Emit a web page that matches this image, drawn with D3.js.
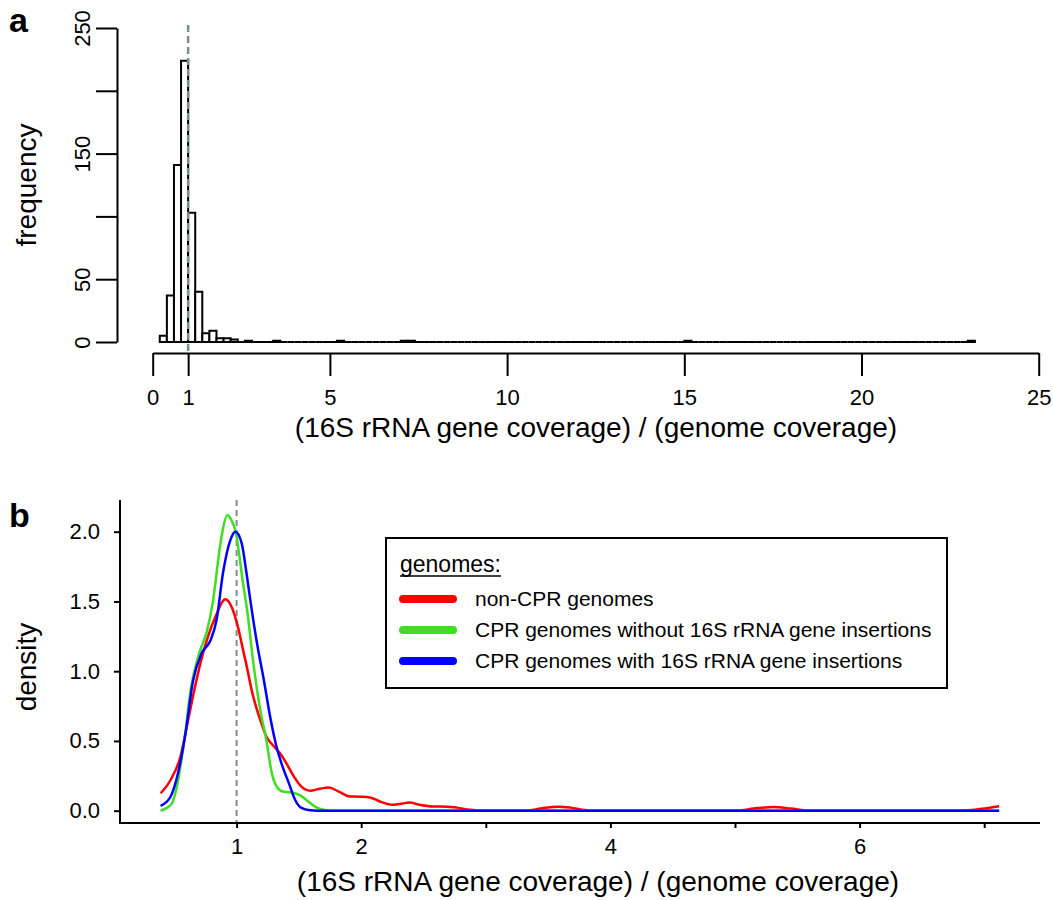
<!DOCTYPE html>
<html>
<head>
<meta charset="utf-8">
<script src="https://cdn.jsdelivr.net/npm/d3@7/dist/d3.min.js"></script>
<style>
  body { margin: 0; background: #fff; }
  svg { font-family: "Liberation Sans", Arial, Helvetica, sans-serif; }
</style>
</head>
<body>
<div id="chart"></div>
<script>
// ---- panel a: histogram of coverage ratio (bins of 0.2) ----
var histRange = [0.2, 23.2];
var histBinWidth = 0.2;
var histBinStarts = [0.2, 0.4, 0.6, 0.8, 1.0, 1.2, 1.4, 1.6, 1.8, 2.0, 2.2, 2.6, 3.4, 5.2, 7.0, 7.2, 15.0, 23.0];
var histCounts    = [5,   37,  141, 224, 103, 40,  7,   9,   3,   3,   2,   1,   1,   1,   1,   1,   1,    1];
var freqTicks = [0, 50, 100, 150, 200, 250];
var freqTickLabels = ["0", "50", "", "150", "", "250"];
var ratioTicksA = [0, 1, 5, 10, 15, 20, 25];

// ---- panel b: density curves ----
var densityTicks = [0, 0.5, 1, 1.5, 2];
var ratioTicksB = [1, 2, 3, 4, 5, 6, 7];
var ratioLabelsB = ["1", "2", "", "4", "", "6", ""];

var seriesNames = ["non-CPR genomes", "CPR genomes without 16S rRNA gene insertions", "CPR genomes with 16S rRNA gene insertions"];
var seriesColors = ["#ff0000", "#3fde22", "#0000ff"];

var nonCprDensity = [
  [0.39, 0.125], [0.47, 0.22], [0.55, 0.39], [0.60, 0.60], [0.65, 0.82], [0.71, 1.06], [0.76, 1.22],
  [0.83, 1.39], [0.91, 1.515], [0.96, 1.46], [1.01, 1.32], [1.05, 1.16], [1.08, 1.04], [1.13, 0.83],
  [1.19, 0.65], [1.24, 0.53], [1.30, 0.46], [1.35, 0.41], [1.40, 0.34], [1.46, 0.245], [1.52, 0.172],
  [1.59, 0.143], [1.67, 0.158], [1.74, 0.166], [1.82, 0.137], [1.91, 0.102], [1.99, 0.10], [2.07, 0.095],
  [2.15, 0.066], [2.25, 0.042], [2.31, 0.048], [2.39, 0.058], [2.47, 0.042], [2.57, 0.03], [2.69, 0.029],
  [2.77, 0.022], [2.87, 0.006], [2.98, 0.001], [3.33, 0.001], [3.44, 0.016], [3.58, 0.028], [3.68, 0.022],
  [3.83, 0.002], [5.02, 0.001], [5.15, 0.015], [5.31, 0.027], [5.45, 0.015], [5.60, 0.001], [6.81, 0.001],
  [6.95, 0.01], [7.12, 0.032]
];
var cprNoInsDensity = [
  [0.39, 0.0], [0.44, 0.02], [0.48, 0.05], [0.52, 0.17], [0.55, 0.32], [0.58, 0.50], [0.63, 0.86],
  [0.70, 1.13], [0.76, 1.28], [0.81, 1.50], [0.86, 1.85], [0.89, 2.02], [0.925, 2.12], [0.96, 2.08],
  [0.99, 2.01], [1.05, 1.64], [1.09, 1.40], [1.13, 1.09], [1.19, 0.72], [1.24, 0.50], [1.28, 0.28],
  [1.32, 0.175], [1.37, 0.138], [1.42, 0.132], [1.46, 0.127], [1.51, 0.11], [1.56, 0.077], [1.62, 0.035],
  [1.68, 0.01], [1.75, 0.0], [7.12, 0.0]
];
var cprInsDensity = [
  [0.39, 0.035], [0.47, 0.10], [0.53, 0.27], [0.59, 0.555], [0.65, 0.93], [0.72, 1.13], [0.79, 1.22],
  [0.84, 1.37], [0.89, 1.70], [0.95, 1.94], [0.99, 2.0], [1.04, 1.92], [1.08, 1.70], [1.11, 1.51],
  [1.16, 1.22], [1.22, 0.93], [1.27, 0.67], [1.32, 0.46], [1.36, 0.34], [1.42, 0.196], [1.47, 0.077],
  [1.52, 0.02], [1.59, 0.003], [1.65, 0.0], [7.12, 0.0]
];
var densities = [nonCprDensity, cprNoInsDensity, cprInsDensity];

var width = 1053, height = 900;
var svg = d3.select("#chart").append("svg")
    .attr("width", width)
    .attr("height", height);

var dashColor = "#7f8c8f";

// ===================== panel a =====================
var xA = d3.scaleLinear().domain([0, 25]).range([152.7, 1038.7]);
var yA = d3.scaleLinear().domain([0, 250]).range([342, 28]);

// full set of bins, zero where no count was read
var nBins = Math.round((histRange[1] - histRange[0]) / histBinWidth);
var bins = d3.range(nBins).map(function(i) {
    var start = +(histRange[0] + i * histBinWidth).toFixed(1);
    var k = histBinStarts.findIndex(function(s) { return Math.abs(s - start) < 1e-6; });
    return { x0: start, x1: start + histBinWidth, n: k >= 0 ? histCounts[k] : 0 };
});

var gA = svg.append("g");

gA.append("g").selectAll("path")
    .data(bins)
    .enter().append("path")
    .attr("d", function(d) {
        return "M" + xA(d.x0) + "," + yA(0) + "V" + yA(d.n) + "H" + xA(d.x1) + "V" + yA(0) + "Z";
    })
    .attr("fill", "#fff")
    .attr("stroke", "#000")
    .attr("stroke-width", 2);

gA.append("line")
    .attr("x1", xA(1)).attr("x2", xA(1))
    .attr("y1", 25).attr("y2", 353)
    .attr("stroke", dashColor)
    .attr("stroke-width", 2.5)
    .attr("stroke-dasharray", "7,4");

var yAxisA = gA.append("g")
    .attr("transform", "translate(117,0)")
    .call(d3.axisLeft(yA).tickValues(freqTicks).tickSize(21).tickSizeOuter(0)
        .tickFormat(function(d, i) { return freqTickLabels[i]; }));
yAxisA.selectAll("text")
    .attr("transform", "rotate(-90)")
    .attr("x", 0).attr("y", -27).attr("dy", 0)
    .attr("text-anchor", "middle");

var xAxisA = gA.append("g")
    .attr("transform", "translate(0,353)")
    .call(d3.axisBottom(xA).tickValues(ratioTicksA).tickSize(23).tickSizeOuter(0));
xAxisA.selectAll("text").attr("y", 52).attr("dy", 0);

gA.append("text")
    .attr("x", 596).attr("y", 437)
    .attr("text-anchor", "middle")
    .attr("font-size", 28)
    .text("(16S rRNA gene coverage) / (genome coverage)");

gA.append("text")
    .attr("transform", "translate(36,185) rotate(-90)")
    .attr("text-anchor", "middle")
    .attr("font-size", 28)
    .text("frequency");

gA.append("text")
    .attr("x", 9).attr("y", 32)
    .attr("font-size", 34).attr("font-weight", "bold")
    .text("a");

// ===================== panel b =====================
var xB = d3.scaleLinear().domain([0, 7]).range([112, 984.2]);
var yB = d3.scaleLinear().domain([0, 2]).range([810.7, 531.7]);

var gB = svg.append("g");

gB.append("line")
    .attr("x1", xB(1)).attr("x2", xB(1))
    .attr("y1", 500).attr("y2", 823)
    .attr("stroke", dashColor)
    .attr("stroke-width", 2)
    .attr("stroke-dasharray", "6,4");

var line = d3.line()
    .x(function(d) { return xB(d[0]); })
    .y(function(d) { return yB(d[1]); })
    .curve(d3.curveMonotoneX);

gB.append("g").selectAll("path")
    .data(densities)
    .enter().append("path")
    .attr("d", line)
    .attr("fill", "none")
    .attr("stroke", function(d, i) { return seriesColors[i]; })
    .attr("stroke-width", 2.5);

// L-shaped frame
gB.append("path")
    .attr("d", "M120,500V823H1040")
    .attr("fill", "none")
    .attr("stroke", "#000")
    .attr("stroke-width", 2);

var yAxisB = gB.append("g")
    .attr("transform", "translate(120,0)")
    .call(d3.axisLeft(yB).tickValues(densityTicks).tickSize(6).tickPadding(14)
        .tickFormat(d3.format(".1f")));
yAxisB.select(".domain").remove();

var xAxisB = gB.append("g")
    .attr("transform", "translate(0,823)")
    .call(d3.axisBottom(xB).tickValues(ratioTicksB).tickSize(5)
        .tickFormat(function(d, i) { return ratioLabelsB[i]; }));
xAxisB.select(".domain").remove();
xAxisB.selectAll("text").attr("y", 31).attr("dy", 0);

gB.append("text")
    .attr("x", 598).attr("y", 891)
    .attr("text-anchor", "middle")
    .attr("font-size", 28)
    .text("(16S rRNA gene coverage) / (genome coverage)");

gB.append("text")
    .attr("transform", "translate(36,667) rotate(-90)")
    .attr("text-anchor", "middle")
    .attr("font-size", 28)
    .text("density");

gB.append("text")
    .attr("x", 9).attr("y", 527)
    .attr("font-size", 34).attr("font-weight", "bold")
    .text("b");

// legend
var legend = gB.append("g");
legend.append("rect")
    .attr("x", 386).attr("y", 538)
    .attr("width", 561).attr("height", 150)
    .attr("fill", "#fff")
    .attr("stroke", "#000")
    .attr("stroke-width", 2);

var lgTitle = legend.append("text")
    .attr("x", 400).attr("y", 572)
    .attr("font-size", 23)
    .text("genomes:");
var titleLen = lgTitle.node().getComputedTextLength();
legend.append("line")
    .attr("x1", 400).attr("x2", 400 + titleLen)
    .attr("y1", 576).attr("y2", 576)
    .attr("stroke", "#000").attr("stroke-width", 1.5);

var rows = legend.selectAll("g.lgd")
    .data(seriesNames)
    .enter().append("g")
    .attr("class", "lgd")
    .attr("transform", function(d, i) { return "translate(0," + (599 + i * 31) + ")"; });

rows.append("line")
    .attr("x1", 403).attr("x2", 453)
    .attr("stroke", function(d, i) { return seriesColors[i]; })
    .attr("stroke-width", 8)
    .attr("stroke-linecap", "round");

rows.append("text")
    .attr("x", 475)
    .attr("dy", "0.35em")
    .attr("font-size", 21)
    .text(function(d) { return d; });

// axis styling
svg.selectAll(".tick text").attr("font-size", 22).attr("fill", "#000");
svg.selectAll(".tick line").attr("stroke-width", 2);
svg.selectAll(".domain").attr("stroke-width", 2);
</script>
</body>
</html>
